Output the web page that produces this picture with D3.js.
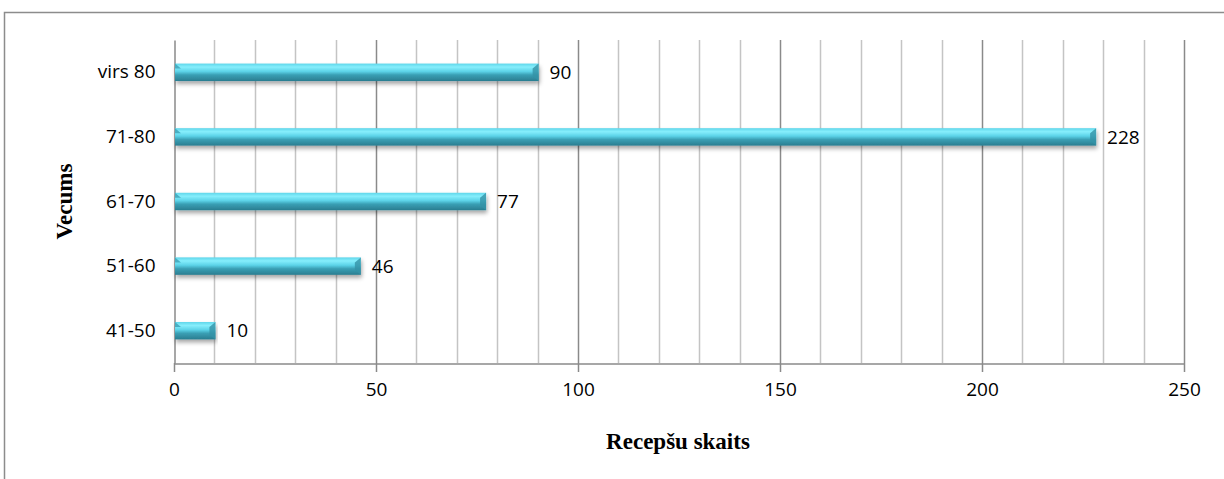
<!DOCTYPE html>
<html>
<head>
<meta charset="utf-8">
<script src="https://cdn.jsdelivr.net/npm/d3@7/dist/d3.min.js"></script>
<style>
body { margin: 0; background: #fff; }
</style>
</head>
<body>
<script>
var w = 1224, h = 479;

// data
var categories = ["virs 80", "71-80", "61-70", "51-60", "41-50"];
var values = [90, 228, 77, 46, 10];
var xTicks = [0, 50, 100, 150, 200, 250];
var xTitle = "Recepšu skaits";
var yTitle = "Vecums";

var pLeft = 174, pRight = 1184, pTop = 40, pBottom = 363;
var labelFont = "'Open Sans', sans-serif";

var svg = d3.select("body").append("svg")
    .attr("width", w)
    .attr("height", h);

var defs = svg.append("defs");
var grad = defs.append("linearGradient")
    .attr("id", "barGrad")
    .attr("x1", 0).attr("y1", 0).attr("x2", 0).attr("y2", 1);
grad.append("stop").attr("offset", "0%").attr("stop-color", "#5fd6ea");
grad.append("stop").attr("offset", "20%").attr("stop-color", "#86eefc");
grad.append("stop").attr("offset", "45%").attr("stop-color", "#5cd3e8");
grad.append("stop").attr("offset", "65%").attr("stop-color", "#3a9fb4");
grad.append("stop").attr("offset", "100%").attr("stop-color", "#2a7d90");

var shadow = defs.append("filter").attr("id", "shadow")
    .attr("x", "-5%").attr("y", "-30%").attr("width", "110%").attr("height", "180%");
shadow.append("feDropShadow")
    .attr("dx", 1).attr("dy", 3).attr("stdDeviation", 2)
    .attr("flood-color", "#000").attr("flood-opacity", 0.35);

// outer frame (right and bottom edges fall outside the picture)
svg.append("rect")
    .attr("x", 4.5).attr("y", 12.5)
    .attr("width", 1230).attr("height", 480)
    .attr("fill", "none").attr("stroke", "#8c8c8c").attr("stroke-width", 1.5);

var x = d3.scaleLinear().domain([0, 250]).range([pLeft, pRight]);
var y = d3.scaleBand().domain(categories).range([pTop, pBottom]).paddingInner(0.73).paddingOuter(0.365);

// gridlines
svg.append("g").selectAll("line")
    .data(d3.range(10, 251, 10))
    .enter().append("line")
    .attr("x1", function(d) { return Math.round(x(d)) + 0.5; })
    .attr("x2", function(d) { return Math.round(x(d)) + 0.5; })
    .attr("y1", pTop)
    .attr("y2", function(d) { return d % 50 == 0 ? pBottom + 9 : pBottom; })
    .attr("stroke", function(d) { return d % 50 == 0 ? "#8a8a8a" : "#c4c4c4"; })
    .attr("stroke-width", 1.5);

// x axis
var xAxis = svg.append("g")
    .attr("transform", "translate(0," + (pBottom + 0.5) + ")")
    .call(d3.axisBottom(x).tickValues(xTicks).tickSize(0).tickPadding(19));
xAxis.select(".domain").attr("stroke", "#8a8a8a").attr("stroke-width", 1.5);
xAxis.selectAll("text")
    .attr("font-family", labelFont)
    .attr("font-size", 19)
    .attr("fill", "#000");
svg.append("line")
    .attr("x1", pLeft + 0.5).attr("x2", pLeft + 0.5)
    .attr("y1", pBottom).attr("y2", pBottom + 9)
    .attr("stroke", "#8a8a8a").attr("stroke-width", 1.5);

// y axis
var yAxis = svg.append("g")
    .attr("transform", "translate(" + (pLeft + 0.5) + ",0)")
    .call(d3.axisLeft(y).tickSize(0).tickPadding(19));
yAxis.select(".domain").attr("stroke", "#8a8a8a").attr("stroke-width", 1.5);
yAxis.selectAll("text")
    .attr("font-family", labelFont)
    .attr("font-size", 19)
    .attr("fill", "#000");

// bars
var bars = svg.append("g").selectAll("g")
    .data(values)
    .enter().append("g");

bars.append("rect")
    .attr("x", x(0) + 1)
    .attr("y", function(d, i) { return y(categories[i]); })
    .attr("width", function(d) { return x(d) - x(0); })
    .attr("height", y.bandwidth())
    .attr("fill", "url(#barGrad)")
    .attr("filter", "url(#shadow)");

// bevels at both bar ends
bars.append("path")
    .attr("d", function(d, i) {
        var x1 = x(d) + 1, yt = y(categories[i]), hb = y.bandwidth();
        return "M" + x1 + "," + yt + "L" + (x1 - 6) + "," + (yt + 5) +
            "L" + (x1 - 6) + "," + (yt + hb - 5) + "L" + x1 + "," + (yt + hb) + "Z";
    })
    .attr("fill", "#3592a6")
    .attr("opacity", 0.8);
bars.append("path")
    .attr("d", function(d, i) {
        var x0 = x(0) + 1, yt = y(categories[i]);
        return "M" + x0 + "," + yt + "L" + (x0 + 6) + "," + (yt + 5) +
            "L" + x0 + "," + (yt + 5) + "Z";
    })
    .attr("fill", "#3a9fb4")
    .attr("opacity", 0.8);

bars.append("text")
    .attr("x", function(d) { return x(d) + 12; })
    .attr("y", function(d, i) { return y(categories[i]) + y.bandwidth() / 2; })
    .attr("dy", "0.35em")
    .attr("font-family", labelFont)
    .attr("font-size", 19)
    .text(function(d) { return d; });

// axis titles
svg.append("text")
    .attr("x", (pLeft + pRight) / 2 - 1)
    .attr("y", 449)
    .attr("text-anchor", "middle")
    .attr("font-family", "'Liberation Serif', serif")
    .attr("font-weight", "bold")
    .attr("font-size", 23)
    .text(xTitle);

svg.append("text")
    .attr("transform", "translate(72," + ((pTop + pBottom) / 2) + ") rotate(-90)")
    .attr("text-anchor", "middle")
    .attr("font-family", "'Liberation Serif', serif")
    .attr("font-weight", "bold")
    .attr("font-size", 23)
    .text(yTitle);
</script>
</body>
</html>
